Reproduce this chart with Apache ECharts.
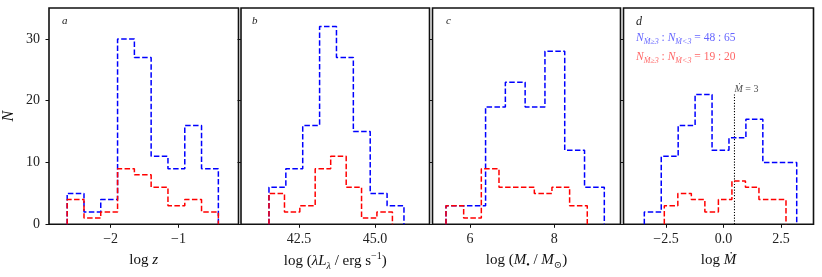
<!DOCTYPE html>
<html>
<head>
<meta charset="utf-8">
<script src="https://cdn.jsdelivr.net/npm/echarts@6/dist/echarts.min.js"></script>
<style>
  html, body { margin: 0; padding: 0; background: #fff; }
  #chart { width: 822px; height: 277px; }
</style>
</head>
<body>
<div id="chart"></div>
<script>
// ---------------- data ----------------
// panel a : log z
const aEdges = [-2.641, -2.393, -2.146, -1.898, -1.650, -1.403, -1.155, -0.907, -0.660, -0.412];
const aBlue  = [5, 2, 4, 30, 27, 11, 9, 16, 9];
const aRed   = [4, 1, 2, 9, 8, 6, 3, 4, 2];
const aTicks = [-2, -1];
// panel b : log(lambda L_lambda)
const bBlueEdges = [41.51, 42.065, 42.62, 43.175, 43.73, 44.285, 44.84, 45.395, 45.95];
const bBlue      = [6, 9, 16, 32, 27, 15, 5, 3];
const bRedEdges  = [41.51, 42.02, 42.525, 43.03, 43.54, 44.05, 44.555, 45.06, 45.57];
const bRed       = [5, 2, 3, 9, 11, 6, 1, 2];
const bTicks = [42.5, 45.0];
// panel c : log(M_BH)
const cBlueEdges = [5.431, 5.900, 6.370, 6.839, 7.308, 7.778, 8.247, 8.717, 9.186];
const cBlue      = [3, 3, 19, 23, 19, 28, 12, 6];
const cRedEdges  = [5.431, 5.850, 6.269, 6.688, 7.107, 7.526, 7.944, 8.363, 8.782];
const cRed       = [3, 1, 9, 6, 6, 5, 6, 3];
const cTicks = [6, 8];
// panel d : log Mdot
const dBlueEdges = [-3.443, -2.707, -1.971, -1.235, -0.498, 0.238, 0.974, 1.710, 2.447, 3.183];
const dBlue      = [2, 11, 16, 21, 12, 14, 17, 10, 10];
const dRedEdges  = [-2.574, -1.986, -1.398, -0.810, -0.222, 0.366, 0.954, 1.541, 2.129, 2.717];
const dRed       = [3, 5, 4, 2, 4, 7, 6, 4, 4];
const dTicks = [-2.5, 0.0, 2.5];
const mdotLine = 3;          // vertical marker at Mdot = 3
const mdotLineTop = 21;      // height of the dotted marker (N units)
const yTicks = [0, 10, 20, 30];
const blueRatio = '48 : 65';
const redRatio  = '19 : 20';

// ---------------- helpers ----------------
function stepPoints(edges, counts) {
  const pts = [[edges[0], 0]];
  for (let i = 0; i < counts.length; i++) {
    pts.push([edges[i], counts[i]]);
    pts.push([edges[i + 1], counts[i]]);
  }
  pts.push([edges[edges.length - 1], 0]);
  return pts;
}
const FONT = '"Liberation Serif", "DejaVu Serif", serif';
const BLUE = '#0000ff', RED = '#ff0000';
const minus = s => String(s).replace('-', '\u2212');

const gTop = 8, gHeight = 216.3;
const grids = [
  { left: 48.5,  top: gTop, width: 190,   height: gHeight },
  { left: 241,   top: gTop, width: 188.5, height: gHeight },
  { left: 432.5, top: gTop, width: 188,   height: gHeight },
  { left: 623.5, top: gTop, width: 190,   height: gHeight }
].map(g => Object.assign(g, { show: true, borderColor: '#111', borderWidth: 1.6, backgroundColor: '#fff', containLabel: false }));

const xRanges = [[-2.909, -0.115], [40.59, 46.79], [5.111, 9.57], [-4.348, 3.913]];
const xTickSets = [aTicks, bTicks, cTicks, dTicks];
const xFormat = [v => minus(v.toFixed(0)), v => minus(v.toFixed(1)), v => minus(v.toFixed(0)), v => minus(v.toFixed(1))];

const rich = {
  n:   { fontFamily: FONT, fontSize: 15, color: '#111', lineHeight: 20 },
  i:   { fontFamily: FONT, fontSize: 15, fontStyle: 'italic', color: '#111', lineHeight: 20 },
  sub: { fontFamily: FONT, fontSize: 10, fontStyle: 'italic', color: '#111', lineHeight: 10, verticalAlign: 'bottom' },
  subn:{ fontFamily: FONT, fontSize: 10, color: '#111', lineHeight: 10, verticalAlign: 'bottom' },
  sup: { fontFamily: FONT, fontSize: 10, color: '#111', lineHeight: 10, verticalAlign: 'top' }
};
const xNames = [
  '{n|log }{i|z}',
  '{n|log (}{i|λL}{sub|λ}{n| / erg s}{sup|−1}{n|)}',
  '{n|log (}{i|M}{subn|•}{n| / }{i|M}{subn|⊙}{n|)}',
  '{n|log }{i|Ṁ}'
];

const xAxis = grids.map((g, k) => ({
  type: 'value', gridIndex: k, position: 'bottom',
  min: xRanges[k][0], max: xRanges[k][1],
  axisLine: { show: false, onZero: false },
  splitLine: { show: false },
  axisTick: { show: true, inside: false, length: 3.5, customValues: xTickSets[k], lineStyle: { color: '#111', width: 1 } },
  axisLabel: { show: true, customValues: xTickSets[k], formatter: xFormat[k], fontFamily: FONT, fontSize: 14, color: '#222', margin: 8 },
  name: xNames[k], nameLocation: 'middle', nameGap: 26,
  nameTextStyle: { rich }
}));

const yAxis = grids.map((g, k) => ({
  type: 'value', gridIndex: k, min: 0, max: 35, position: 'left',
  axisLine: { show: false, onZero: false },
  splitLine: { show: false },
  axisTick: { show: true, inside: false, length: 3.5, customValues: yTicks, lineStyle: { color: '#111', width: 1 } },
  axisLabel: { show: k === 0, customValues: yTicks, fontFamily: FONT, fontSize: 14, color: '#222', margin: 9 },
  name: k === 0 ? 'N' : '', nameLocation: 'middle', nameGap: 32,
  nameTextStyle: { fontFamily: FONT, fontSize: 16, fontStyle: 'italic', color: '#111' }
}));

function hist(k, edges, counts, color) {
  return {
    type: 'line', xAxisIndex: k, yAxisIndex: k,
    data: stepPoints(edges, counts),
    symbol: 'none', silent: true, clip: false,
    lineStyle: { color, width: 1.5, type: [5.5, 2.4] },
    z: 3
  };
}

const series = [
  hist(0, aEdges, aBlue, BLUE), hist(0, aEdges, aRed, RED),
  hist(1, bBlueEdges, bBlue, BLUE), hist(1, bRedEdges, bRed, RED),
  hist(2, cBlueEdges, cBlue, BLUE), hist(2, cRedEdges, cRed, RED),
  hist(3, dBlueEdges, dBlue, BLUE), hist(3, dRedEdges, dRed, RED),
  {
    type: 'line', xAxisIndex: 3, yAxisIndex: 3, silent: true,
    data: [[Math.log10(mdotLine), 0], [Math.log10(mdotLine), mdotLineTop]],
    symbol: 'none', lineStyle: { color: '#000', width: 1.1, type: [1.2, 1.6] }, z: 2
  },
  {
    type: 'scatter', xAxisIndex: 3, yAxisIndex: 3, silent: true,
    data: [[Math.log10(mdotLine), mdotLineTop]], symbolSize: 0,
    label: { show: true, position: [0, -10], formatter: '{i|Ṁ}{n| = ' + mdotLine + '}',
      rich: { i: { fontFamily: FONT, fontSize: 10, fontStyle: 'italic', color: '#222' }, n: { fontFamily: FONT, fontSize: 10, color: '#222' } } }
  }
];

function ratioText(color, ratio) {
  const r = {
    i:   { fontFamily: FONT, fontSize: 11.5, fontStyle: 'italic', fill: color, lineHeight: 15 },
    n:   { fontFamily: FONT, fontSize: 11.5, fill: color, lineHeight: 15 },
    sub: { fontFamily: FONT, fontSize: 8, fontStyle: 'italic', fill: color, lineHeight: 8, verticalAlign: 'bottom' }
  };
  return { text: '{i|N}{sub|Ṁ≥3}{n| : }{i|N}{sub|Ṁ<3}{n| = ' + ratio + '}', rich: r };
}

const graphic = [
  { type: 'text', left: 62, top: 16, style: { text: 'a', font: 'italic 11px ' + FONT, fill: '#222' } },
  { type: 'text', left: 252, top: 16, style: { text: 'b', font: 'italic 11px ' + FONT, fill: '#222' } },
  { type: 'text', left: 446, top: 16, style: { text: 'c', font: 'italic 11px ' + FONT, fill: '#222' } },
  { type: 'text', left: 636, top: 16, style: { text: 'd', font: 'italic 12px ' + FONT, fill: '#222' } },
  { type: 'text', left: 636, top: 32, style: ratioText('#6666ff', blueRatio) },
  { type: 'text', left: 636, top: 51, style: ratioText('#ff6666', redRatio) }
];

const chart = echarts.init(document.getElementById('chart'), null, { renderer: 'canvas' });
chart.setOption({
  animation: false,
  backgroundColor: '#fff',
  grid: grids, xAxis, yAxis, series, graphic
});
</script>
</body>
</html>
